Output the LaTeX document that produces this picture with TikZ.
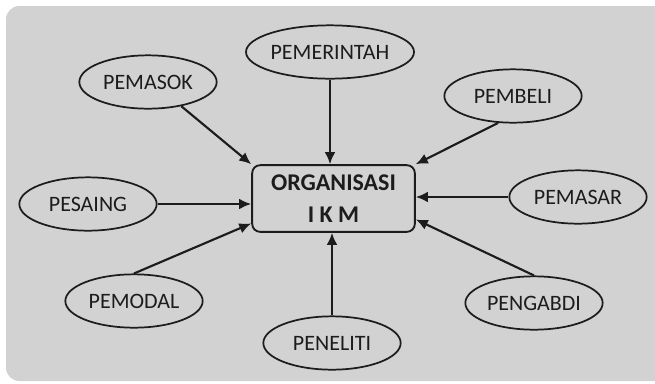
\documentclass[tikz,border=0pt]{standalone}
\usepackage{fontspec}
\setmainfont{Carlito}
\usepackage{tikz}
\usetikzlibrary{arrows.meta}
\usetikzlibrary{shapes}
\usepackage{xcolor}
\definecolor{bggray}{HTML}{D2D2D2}
\definecolor{inkgray}{HTML}{1C1C1C}
\tikzset{
    actor/.style={
        draw=inkgray,
        ellipse,
        line width=1.3pt,
        minimum width=103pt,
        minimum height=40pt,
        inner sep=0pt,
        text=inkgray,
        font=\fontsize{16.5}{19}\selectfont
    },
    flow/.style={
        draw=inkgray,
        -{Latex[length=9pt, width=8pt]},
        line width=1.6pt
    }
}

\begin{document}
\begin{tikzpicture}[x=0.75pt, y=-0.75pt]
  \useasboundingbox (0,0) rectangle (655,383);
  % Background panel
  \fill[bggray, rounded corners=10pt] (6,6) rectangle (672,381);

  % Central box
  \node[draw=inkgray, rounded corners=6pt, line width=1.4pt, minimum width=122pt, minimum height=50pt,
        align=center, text=inkgray, font=\bfseries\fontsize{18}{24}\selectfont] (ikm) at (333.5,198.5)
        {ORGANISASI\\I K M};

  % Actors around the box
  \node[actor] (pemasok) at (148,82) {PEMASOK};
  \node[actor] (pemerintah) at (330,52) {PEMERINTAH};
  \node[actor] (pembeli) at (513,96) {PEMBELI};
  \node[actor] (pesaing) at (88,204) {PESAING};
  \node[actor] (pemasar) at (578,197) {PEMASAR};
  \node[actor] (pemodal) at (134,301) {PEMODAL};
  \node[actor] (pengabdi) at (534,303) {PENGABDI};
  \node[actor] (peneliti) at (332,343) {PENELITI};

  % Arrows into the box
  \draw[flow] (pemasok.-36) -- (ikm.north west);
  \draw[flow] (pemerintah.south) -- (pemerintah.south |- ikm.north);
  \draw[flow] (pembeli.-119) -- (ikm.north east);
  \draw[flow] (pesaing.east) -- (pesaing.east -| ikm.west);
  \draw[flow] (pemasar.west) -- (pemasar.west -| ikm.east);
  \draw[flow] (pemodal.north) -- ([yshift=7pt]ikm.south west);
  \draw[flow] (pengabdi.north) -- ([yshift=10pt]ikm.south east);
  \draw[flow] (peneliti.north) -- (peneliti.north |- ikm.south);
\end{tikzpicture}
\end{document}
